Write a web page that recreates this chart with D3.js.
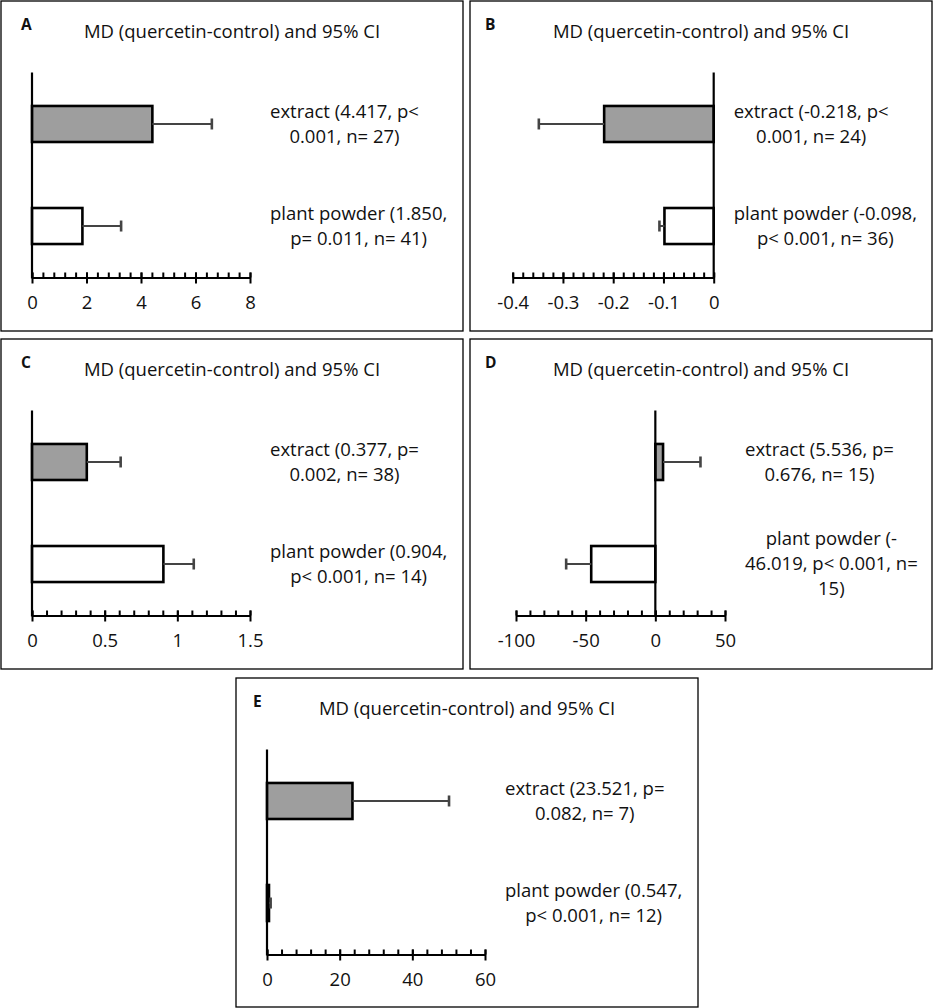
<!DOCTYPE html>
<html>
<head>
<meta charset="utf-8">
<script src="https://cdn.jsdelivr.net/npm/d3@7"></script>
<style>
  html, body { margin: 0; padding: 0; background: #fff; }
  svg { display: block; }
  text { font-family: "Open Sans", "Noto Sans", sans-serif; fill: #111; }
</style>
</head>
<body>
<svg id="chart" width="934" height="1008"></svg>
<script>
// ---------------- DATA ----------------
const panelIds = ["A", "B", "C", "D", "E"];
const categories = ["extract", "plant powder"];
const chartTitle = "MD (quercetin-control) and 95% CI";

// mean differences (quercetin - control)
const mdA = [4.417, 1.850];
const mdB = [-0.218, -0.098];
const mdC = [0.377, 0.904];
const mdD = [5.536, -46.019];
const mdE = [23.521, 0.547];

// 95% CI bound shown by the error bar (in direction of the MD)
const ciA = [6.6, 3.27];
const ciB = [-0.348, -0.108];
const ciC = [0.61, 1.113];
const ciD = [32.4, -64.0];
const ciE = [50.1, 1.0];

// axis domains and ticks
const domainA = [0, 8],      majorA = [0, 2, 4, 6, 8],                 minorStepA = 0.4;
const domainB = [-0.4, 0],   majorB = [-0.4, -0.3, -0.2, -0.1, 0],     minorStepB = 0.02;
const domainC = [0, 1.5],    majorC = [0, 0.5, 1, 1.5],                minorStepC = 0.1;
const domainD = [-100, 50],  majorD = [-100, -50, 0, 50],              minorStepD = 10;
const domainE = [0, 60],     majorE = [0, 20, 40, 60],                 minorStepE = 4;

// data labels (as wrapped in the original)
const labelsA = [["extract (4.417, p<", "0.001, n= 27)"], ["plant powder (1.850,", "p= 0.011, n= 41)"]];
const labelsB = [["extract (-0.218, p<", "0.001, n= 24)"], ["plant powder (-0.098,", "p< 0.001, n= 36)"]];
const labelsC = [["extract (0.377, p=", "0.002, n= 38)"], ["plant powder (0.904,", "p< 0.001, n= 14)"]];
const labelsD = [["extract (5.536, p=", "0.676, n= 15)"], ["plant powder (-", "46.019, p< 0.001, n=", "15)"]];
const labelsE = [["extract (23.521, p=", "0.082, n= 7)"], ["plant powder (0.547,", "p< 0.001, n= 12)"]];

// ---------------- LAYOUT ----------------
const panelData = {
  A: { md: mdA, ci: ciA, domain: domainA, major: majorA, minor: minorStepA, labels: labelsA },
  B: { md: mdB, ci: ciB, domain: domainB, major: majorB, minor: minorStepB, labels: labelsB },
  C: { md: mdC, ci: ciC, domain: domainC, major: majorC, minor: minorStepC, labels: labelsC },
  D: { md: mdD, ci: ciD, domain: domainD, major: majorD, minor: minorStepD, labels: labelsD },
  E: { md: mdE, ci: ciE, domain: domainE, major: majorE, minor: minorStepE, labels: labelsE }
};
const layout = {
  A: { x: 1,   y: 1,   w: 462, h: 330, px0: 31,   px1: 249,   lx: 20 },
  B: { x: 470, y: 1,   w: 462, h: 330, px0: 42.7, px1: 243.7, lx: 15 },
  C: { x: 1,   y: 339, w: 462, h: 330, px0: 31,   px1: 249,   lx: 20 },
  D: { x: 470, y: 339, w: 462, h: 330, px0: 46,   px1: 255,   lx: 15 },
  E: { x: 236, y: 678, w: 462, h: 329, px0: 31,   px1: 249,   lx: 17 }
};
const plotTop = 71.5, axisY = 276.5;
const fs = 18.5;

const svg = d3.select("#chart");

panelIds.forEach(id => {
  const d = panelData[id], L = layout[id];
  const g = svg.append("g").attr("transform", `translate(${L.x},${L.y})`);

  g.append("rect").attr("x", 0).attr("y", 0).attr("width", L.w).attr("height", L.h)
    .attr("fill", "none").attr("stroke", "#000").attr("stroke-width", 1.3);

  g.append("text").attr("x", L.lx).attr("y", 28.5)
    .style("font-weight", "bold").style("font-size", "15.5px").text(id);

  g.append("text").attr("x", L.w / 2).attr("y", 37).attr("text-anchor", "middle")
    .style("font-size", fs + "px").text(chartTitle);

  const x = d3.scaleLinear().domain(d.domain).range([L.px0, L.px1]);
  const y = d3.scaleBand().domain(categories).range([plotTop, axisY])
    .paddingInner(0.647).paddingOuter(0.328);

  // minor ticks (inside / above axis)
  const nMinor = Math.round((d.domain[1] - d.domain[0]) / d.minor);
  const minorVals = d3.range(nMinor + 1).map(i => d.domain[0] + i * d.minor);
  const minorAxis = d3.axisTop(x).tickValues(minorVals).tickSize(5).tickFormat("");
  const ma = g.append("g").attr("transform", `translate(0,${axisY})`).call(minorAxis);
  ma.select(".domain").remove();
  ma.selectAll("line").attr("stroke", "#000").attr("stroke-width", 2);

  // major ticks (cross) + labels (plain hyphen minus as in original)
  const majorAxis = d3.axisBottom(x).tickValues(d.major).tickSize(6).tickSizeOuter(0)
    .tickFormat(v => String(+v.toFixed(4)));
  const ax = g.append("g").attr("transform", `translate(0,${axisY})`).call(majorAxis);
  ax.select(".domain").attr("stroke", "#000").attr("stroke-width", 2.2);
  ax.selectAll(".tick line").attr("stroke", "#000").attr("stroke-width", 2).attr("y1", -5);
  ax.selectAll(".tick text").attr("y", 31).attr("dy", null)
    .style("font-size", fs + "px").style("font-family", "'Open Sans', sans-serif").attr("fill", "#111");

  // bars
  const rows = categories.map((c, i) => ({ c, i, v: d.md[i], ci: d.ci[i] }));
  g.selectAll("rect.bar").data(rows).enter().append("rect").attr("class", "bar")
    .attr("x", r => Math.min(x(0), x(r.v)))
    .attr("width", r => Math.max(Math.abs(x(r.v) - x(0)), 0.8))
    .attr("y", r => y(r.c)).attr("height", y.bandwidth())
    .attr("fill", r => r.i === 0 ? "#9e9e9e" : (id === "E" ? "#9e9e9e" : "#fff"))
    .attr("stroke", "#000").attr("stroke-width", 2.6);

  // error bars
  const eb = g.selectAll("g.err").data(rows).enter().append("g").attr("class", "err");
  eb.append("line")
    .attr("x1", r => x(r.v)).attr("x2", r => x(r.ci))
    .attr("y1", r => y(r.c) + y.bandwidth() / 2).attr("y2", r => y(r.c) + y.bandwidth() / 2)
    .attr("stroke", "#444").attr("stroke-width", 2);
  eb.append("line")
    .attr("x1", r => x(r.ci)).attr("x2", r => x(r.ci))
    .attr("y1", r => y(r.c) + y.bandwidth() / 2 - 5.5).attr("y2", r => y(r.c) + y.bandwidth() / 2 + 5.5)
    .attr("stroke", "#444").attr("stroke-width", 2.6);

  // vertical category axis at x = 0
  g.append("line").attr("x1", x(0)).attr("x2", x(0)).attr("y1", plotTop).attr("y2", axisY + 1)
    .attr("stroke", "#000").attr("stroke-width", 2.2);

  // data labels to the right of the plot
  const labelLeft = L.px1 + 20;
  const lineH = 25;
  rows.forEach(r => {
    const lines = d.labels[r.i];
    const t = g.append("g");
    const texts = lines.map(s => t.append("text").style("font-size", fs + "px").text(s));
    const widths = texts.map(tx => tx.node().getComputedTextLength());
    const maxW = d3.max(widths);
    const cy = y(r.c) + y.bandwidth() / 2;
    const n = lines.length;
    texts.forEach((tx, k) => {
      tx.attr("x", labelLeft + maxW / 2).attr("text-anchor", "middle")
        .attr("y", cy + (k - (n - 1) / 2) * lineH).attr("dy", "0.35em");
    });
  });
});
</script>
</body>
</html>
